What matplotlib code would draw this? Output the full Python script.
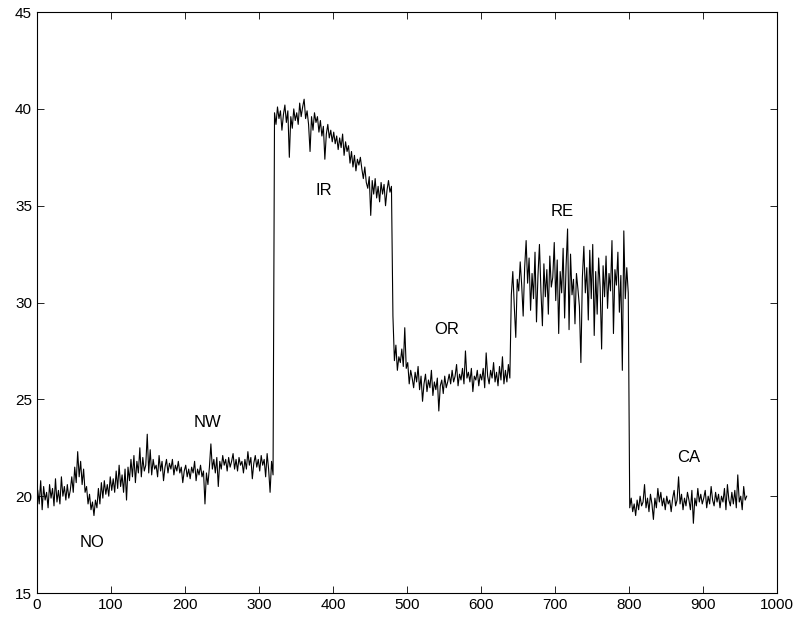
import matplotlib
matplotlib.use("Agg")
import matplotlib.pyplot as plt
import numpy as np

#
# Data (one value every 2 samples)
#

no_vals = [20.3, 19.6, 20.8, 19.3, 20.5, 19.8, 20.2, 19.4, 20.6, 19.9,
           20.4, 19.5, 20.9, 19.7, 20.3, 19.6, 21.0, 20.0, 20.5, 19.8,
           20.6, 19.9, 20.3, 21.0, 20.2, 21.5, 20.7, 22.3, 21.0, 21.8,
           20.6, 21.4, 20.2, 20.5, 19.6, 20.1, 19.3, 19.7, 19.0, 19.8,
           19.4, 20.4, 19.6, 20.7, 19.9, 20.8, 20.1, 20.6, 20.0, 21.0,
           20.3, 20.9, 20.2, 21.3, 20.4, 21.6, 20.5, 21.1, 20.2, 21.4,
           19.8, 21.5, 20.8, 21.9, 21.0, 22.1, 20.7, 21.8, 21.2, 22.5,
           21.0, 22.0, 21.3, 21.6, 23.2, 21.2, 22.4, 21.1, 21.9, 21.4]

nw_vals = [21.6, 21.0, 22.1, 21.3, 21.8, 20.8, 21.5, 21.9, 21.2, 21.7,
           21.4, 21.9, 21.1, 21.6, 21.3, 21.8, 21.2, 21.5, 20.7, 21.3,
           21.6, 21.0, 21.4, 20.9, 21.5, 21.2, 21.8, 20.8, 21.4, 21.1,
           21.6, 21.0, 21.3, 19.6, 21.2, 20.6, 21.5, 22.7, 21.4, 21.9,
           21.2, 22.0, 20.5, 21.8, 21.4, 22.1, 21.6, 21.9, 21.3, 22.0,
           21.5, 21.8, 22.2, 21.4, 21.9, 21.3, 22.0, 21.6, 21.8, 21.2,
           21.9, 21.4, 22.3, 21.6, 22.0, 20.9, 21.7, 22.1, 21.5, 21.9,
           21.3, 22.1, 21.6, 21.9, 21.0, 22.2, 21.4, 20.2, 21.8, 21.1]

ir_vals = [39.8, 39.2, 40.1, 39.5, 39.9, 38.9, 39.7, 40.2, 39.3, 39.9,
           37.5, 39.6, 39.0, 40.0, 39.4, 39.8, 39.2, 40.3, 39.6, 40.1,
           40.5, 39.5, 39.9, 39.2, 37.8, 39.6, 38.9, 39.8, 39.3, 39.6,
           38.8, 39.4, 38.6, 39.1, 37.4, 38.7, 39.2, 38.5, 38.9, 38.3,
           38.8, 38.2, 38.6, 37.9, 38.5, 38.0, 38.7, 37.6, 38.3, 37.8,
           38.1, 37.2, 37.8, 37.0, 37.6, 36.8, 37.4, 37.1, 37.5, 36.9,
           36.4, 37.0, 36.2, 35.9, 36.5, 34.5, 36.3, 35.6, 36.4, 35.4,
           36.0, 35.2, 36.2, 35.6, 36.1, 35.0, 35.8, 36.3, 35.7, 36.0]

or_vals = [29.3, 27.0, 27.8, 26.5, 27.2, 26.9, 27.6, 26.7, 28.7, 26.6,
           26.9, 25.8, 26.5, 26.1, 25.6, 26.4, 25.9, 26.7, 25.5, 26.2,
           24.9, 25.8, 26.3, 25.4, 26.0, 25.6, 26.5, 25.2, 25.9, 25.5,
           26.1, 24.4, 25.7, 26.0, 25.3, 26.2, 25.6, 25.9, 26.3, 25.8,
           26.5, 25.9, 26.2, 26.8, 25.7, 26.3, 26.0, 26.6, 25.8, 27.5,
           26.1, 26.4, 25.9, 26.6, 25.4, 26.2, 26.0, 26.5, 25.7, 26.3,
           26.0, 26.6, 25.6, 27.4, 26.2, 25.8, 26.5, 26.1, 26.9, 25.9,
           26.4, 25.7, 26.7, 26.0, 27.2, 25.8, 26.5, 25.9, 26.8, 26.1]

re_vals = [30.4, 31.6, 29.8, 28.2, 31.2, 30.6, 32.1, 30.9, 29.3, 31.8,
           33.2, 31.0, 32.3, 29.6, 31.5, 30.2, 32.6, 29.0, 31.4, 33.0,
           30.6, 28.8, 32.0, 30.3, 31.7, 29.4, 32.4, 30.8, 31.3, 33.1,
           30.1, 32.2, 28.4, 31.6, 30.5, 32.8, 29.2, 31.9, 33.8, 28.6,
           32.5, 30.4, 31.2, 28.9, 31.5, 30.7, 29.8, 26.9, 31.3, 32.9,
           30.5, 31.8, 29.1, 32.7, 30.2, 33.0, 28.3, 31.6, 29.4, 32.3,
           30.8, 27.6, 31.9, 30.3, 32.4, 29.7, 31.5, 30.6, 33.2, 28.4,
           31.7, 30.9, 32.6, 29.5, 31.4, 26.5, 33.7, 30.2, 31.8, 30.5]

ca_vals = [19.4, 19.9, 19.2, 19.6, 19.0, 19.8, 19.3, 20.0, 19.5, 19.7,
           20.6, 19.4, 19.9, 19.2, 20.1, 19.6, 18.8, 19.9, 19.4, 20.4,
           19.7, 20.2, 19.5, 19.9, 19.3, 20.0, 19.6, 19.8, 19.2, 19.9,
           20.3, 19.5, 19.8, 21.0, 19.6, 20.1, 19.3, 19.9, 19.5, 20.2,
           19.8, 19.3, 20.3, 18.6, 19.9, 19.5, 20.4, 19.7, 20.1, 19.6,
           19.9, 20.3, 19.4, 20.0, 19.6, 20.5, 19.8, 19.5, 20.2, 19.7,
           20.1, 19.4, 20.0, 19.7, 20.4, 19.3, 20.6, 19.8, 19.5, 20.2,
           19.6, 20.3, 19.4, 21.1, 19.7, 20.0, 19.3, 20.5, 19.8, 20.0]

labels = ["NO", "NW", "IR", "OR", "RE", "CA"]
label_x = [75, 230, 388, 553, 710, 880]
label_y = [17.6, 23.8, 35.8, 28.6, 34.7, 22.0]

xticks = list(range(0, 1001, 100))
yticks = list(range(15, 46, 5))

#
# Plot
#

y = np.array(no_vals + nw_vals + ir_vals + or_vals + re_vals + ca_vals)
x = np.arange(1, 2 * len(y), 2)                       # sample index

plt.rcParams['font.family'] = ['Liberation Sans', 'DejaVu Sans']

fig = plt.figure(figsize=(7.97, 6.22), dpi=100, facecolor="white")
ax = fig.add_axes([0.0464, 0.0466, 0.9285, 0.934])
ax.plot(x, y, color="black", linewidth=0.8)

for name, lx, ly in zip(labels, label_x, label_y):
    ax.text(lx, ly, name, ha="center", va="center", fontsize=12)

ax.set_xlim(0, 1000)
ax.set_ylim(15, 45)
ax.set_xticks(xticks)
ax.set_yticks(yticks)
ax.tick_params(direction="in", top=True, right=True, labelsize=11, length=5, width=0.6)
[ax.spines[s].set_linewidth(0.8) for s in ax.spines]

plt.savefig("out.png", dpi=100)
